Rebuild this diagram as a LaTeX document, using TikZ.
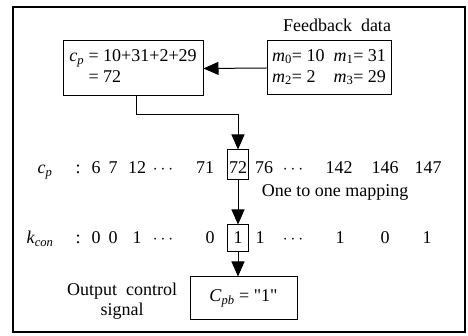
\documentclass[tikz,border=0pt]{standalone}
\usepackage{fontspec}
\setmainfont{Liberation Serif}
\newfontfamily\plainfont{Liberation Serif}
\usetikzlibrary{arrows.meta,positioning,calc}
\newcommand{\ivar}[2]{\textit{#1}\textsubscript{#2}}
\newcommand{\mapfont}{\fontsize{18}{18}\selectfont}
\tikzset{
  mapbox/.style={draw, line width=1pt, align=left, inner sep=0pt, font=\mapfont},
  maparr/.style={-{Triangle[length=15pt,width=13pt]}, line width=1pt},
  rowtxt/.style={anchor=base, inner sep=0pt, font=\mapfont},
  selbox/.style={draw, line width=1pt, anchor=base, inner sep=0pt, minimum width=21pt, font=\mapfont},
  mapnote/.style={align=center, inner sep=0pt, font=\mapfont},
}
\begin{document}
\begin{tikzpicture}[x=1pt, y=-1pt]
  \useasboundingbox (0,0) rectangle (468,336);
  \draw[line width=1.2pt] (13,7) rectangle (465,332);

  % top boxes
  \node[mapbox, minimum width=140pt, minimum height=55pt] (cp) at (133,68.5)
    {\begin{tabular}{@{}r@{ }l@{}}\ivar{c}{\textit{p}} & = 10+31+2+29\\[3pt] & = 72\end{tabular}};
  \node[mapbox, minimum width=124pt, minimum height=54pt] (fb) at (329,68)
    {\begin{tabular}{@{}l@{\ \ }l@{}}\ivar{m}{0}= 10 & \ivar{m}{1}= 31\\[3pt] \ivar{m}{2}= 2 & \ivar{m}{3}= 29\end{tabular}};
  \node[mapnote] (fbtitle) at (337,25) {Feedback\ \ data};

  % c_p row
  \node[rowtxt] (cplab) at (45,174) {\ivar{c}{\textit{p}}};
  \node[rowtxt] (cpcol) at (78,174) {:};
  \foreach \x/\t [count=\i] in {96/6, 113/7, 137/12, 163/$\cdots$, 205/71,
                                264/76, 293/$\cdots$, 339/142, 385/146, 428/147}
    \node[rowtxt] (cp-\i) at (\x,174) {\t};
  \node[selbox, text height=24pt, text depth=6pt] (cpsel) at (238,174) {72};

  % k_con row
  \node[rowtxt] (klab) at (40,244) {\ivar{k}{\textit{con}}};
  \node[rowtxt] (kcol) at (78,244) {:};
  \foreach \x/\t [count=\i] in {96/0, 113/0, 137/1, 163/$\cdots$, 210/0,
                                260/1, 293/$\cdots$, 340/1, 385/0, 427/1}
    \node[rowtxt] (k-\i) at (\x,244) {\t};
  \node[selbox, text height=19pt, text depth=8pt] (ksel) at (238,244) {1};

  \node[mapnote] (maptxt) at (335,192) {One to one mapping};

  % output
  \node[mapbox, align=center, minimum width=107pt, minimum height=42pt] (out) at (243.5,298)
    {\ivar{C}{\textit{pb}} = {\plainfont"1"}};
  \node[mapnote, align=center] (outtxt) at (122,301) {Output\ \ control\\[2pt]signal};

  \draw[maparr] (fb.west) -- (cp.east);
  \draw[maparr] ([xshift=3pt]cp.south) -- ++(0,18) -| (cpsel.north);
  \draw[maparr] (cpsel.south) -- (ksel.north);
  \draw[maparr] (ksel.south) -- (ksel.south |- out.north);
\end{tikzpicture}
\end{document}
